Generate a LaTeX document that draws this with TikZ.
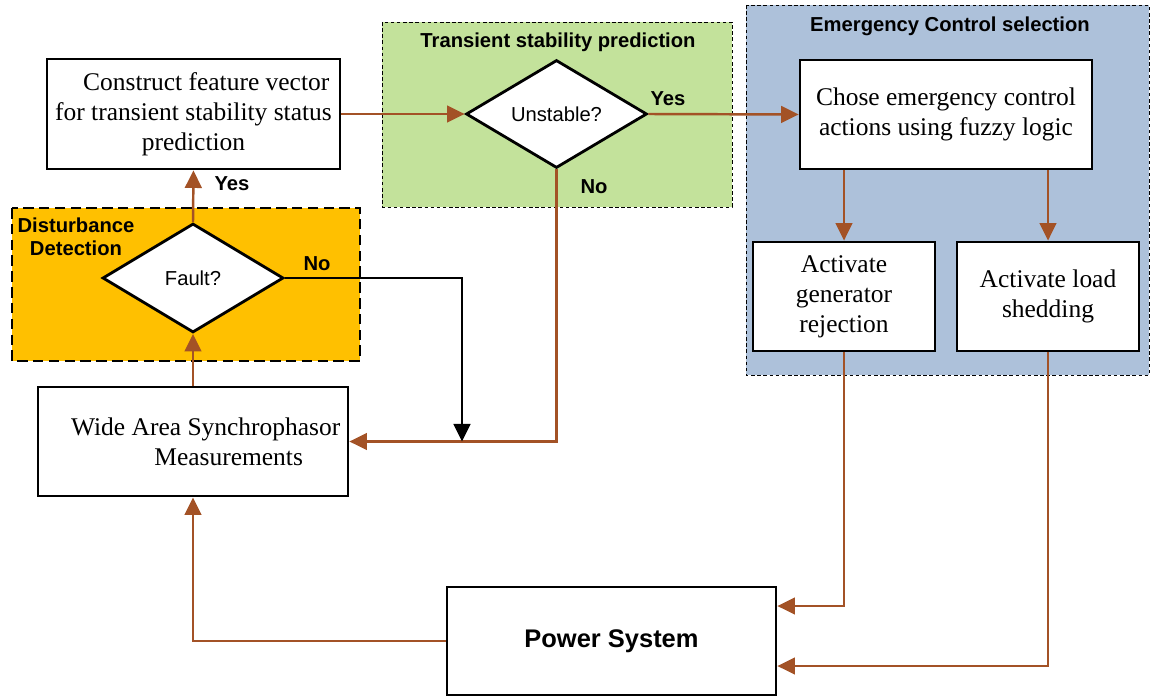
\documentclass[tikz,border=0pt]{standalone}
\usepackage{fontspec}
\setmainfont{Liberation Serif}
\newfontfamily\arialf{Liberation Sans}
\usetikzlibrary{shapes.geometric,arrows.meta,calc}
\definecolor{brn}{RGB}{163,82,38}
\definecolor{orng}{RGB}{255,192,0}
\definecolor{grn}{RGB}{195,226,155}
\definecolor{blu}{RGB}{173,193,218}
\begin{document}
\begin{tikzpicture}[x=0.02cm,y=-0.02cm,
  box/.style={draw=black,line width=1.6pt,fill=white,align=center,inner sep=1pt,font=\fontsize{14.5}{17}\selectfont},
  dia/.style={draw=black,line width=1.6pt,fill=white,diamond,inner sep=0pt,font=\arialf\fontsize{11.5}{13}\selectfont},
  lbl/.style={font=\arialf\bfseries\fontsize{11.5}{13}\selectfont,align=center,inner sep=0pt},
  arr/.style={draw=brn,line width=1.4pt,-{Triangle[length=10pt,width=9.5pt]}},
  blk/.style={draw=black,line width=1.4pt,-{Triangle[length=10pt,width=9.5pt]}},
  thinregion/.style={draw=black,line width=0.4pt,dash pattern=on 2pt off 1.5pt}
]
\useasboundingbox (0,0) rectangle (1150,696);
% regions
\path[fill=orng,draw=black,line width=1.4pt,dash pattern=on 6pt off 3pt] (12,208) rectangle (360,361);
\path[fill=grn,thinregion] (382,22) rectangle (732,207);
\path[fill=blu,thinregion] (746,5) rectangle (1149,375);
\node[lbl] (tdist) at (76,237) {Disturbance\\Detection};
\node[lbl] (ttrans) at (558,42) {Transient stability prediction};
\node[lbl] (temerg) at (950,26) {Emergency Control selection};
% nodes
\node[box,minimum width=5.86cm,minimum height=2.2cm] (construct) at (193.5,114) {\hspace*{1em}Construct feature vector\\for transient stability status\\prediction};
\node[box,minimum width=6.2cm,minimum height=2.18cm] (wide) at (193,441.5) {\hspace*{1em}Wide Area Synchrophasor\\\hspace*{2.8em}Measurements};
\node[dia,minimum width=3.62cm,minimum height=2.18cm] (fault) at (193,278) {Fault?};
\node[dia,minimum width=3.62cm,minimum height=2.16cm] (unstable) at (556.5,114) {Unstable?};
\node[box,minimum width=5.84cm,minimum height=2.18cm] (chose) at (946,114.5) {Chose emergency control\\actions using fuzzy logic};
\node[box,minimum width=3.64cm,minimum height=2.18cm] (gen) at (844,296.5) {Activate\\generator\\rejection};
\node[box,minimum width=3.64cm,minimum height=2.18cm] (load) at (1048,296.5) {Activate load\\shedding};
\node[box,minimum width=6.58cm,minimum height=2.16cm,font=\arialf\bfseries\fontsize{14.5}{17}\selectfont] (power) at (611.5,641) {Power System};
% labels
\node[lbl] (yes1) at (232,184) {Yes};
\node[lbl] (no1) at (317,264) {No};
\node[lbl] (yes2) at (668,99) {Yes};
\node[lbl] (no2) at (594,187) {No};
% connectors
\coordinate (j) at (462,441.5);
\draw[arr] (fault.north) -- (construct.south);
\draw[arr] (wide.north) -- (fault.south);
\draw[arr] (construct.east) -- (unstable.west);
\draw[arr] (unstable.east) -- (chose.west);
\draw[arr] (unstable.south) |- (wide.east);
\draw[blk] (fault.east) -| (j);
\draw[arr] (gen.north |- chose.south) -- (gen.north);
\draw[arr] (load.north |- chose.south) -- (load.north);
\draw[arr] (gen.south) |- ($(power.east)+(0,-35)$);
\draw[arr] (load.south) |- ($(power.east)+(0,25)$);
\draw[arr] (power.west) -| (wide.south);
\end{tikzpicture}
\end{document}
